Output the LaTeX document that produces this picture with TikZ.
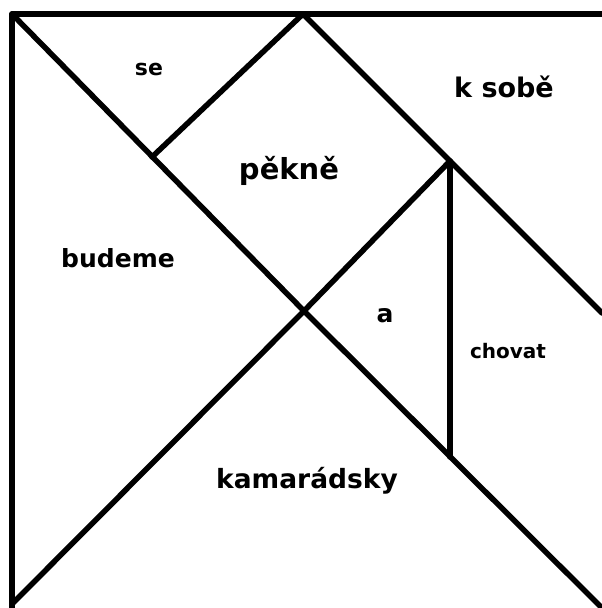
\documentclass[tikz,border=0pt]{standalone}
\usepackage{fontspec}
\setmainfont{DejaVu Sans}
\begin{document}
\begin{tikzpicture}[x=1pt,y=-1pt,
  edge/.style={line width=5.5pt,line cap=round,line join=round},
  lbl/.style={anchor=base,inner sep=0pt,font=\bfseries}]
\useasboundingbox (0,0) rectangle (602,608);
\coordinate (TL) at (12,14);
\coordinate (TR) at (602,14);
\coordinate (LB) at (12,608);
\coordinate (TM) at (303,14);
\coordinate (P) at (152,157);
\coordinate (C) at (304,311);
\coordinate (Q) at (450,161);
\coordinate (QB) at (450,457);
\coordinate (BR) at (600,606);
\coordinate (RM) at (602,313);
\coordinate (BL) at (12,604);
\draw[edge] (TR) -- (TL) -- (LB);
\draw[edge] (TL) -- (C) -- (BR);
\draw[edge] (TM) -- (P);
\draw[edge] (TM) -- (Q) -- (RM);
\draw[edge] (Q) -- (QB);
\draw[edge] (Q) -- (C) -- (BL);
\node[lbl,font=\bfseries\fontsize{22}{24}\selectfont] (se) at (149,75) {se};
\node[lbl,font=\bfseries\fontsize{27}{29}\selectfont] (ksobe) at (504,97) {k sobě};
\node[lbl,font=\bfseries\fontsize{29}{31}\selectfont] (pekne) at (289,179) {pěkně};
\node[lbl,font=\bfseries\fontsize{25}{27}\selectfont] (budeme) at (118,267) {budeme};
\node[lbl,font=\bfseries\fontsize{25}{27}\selectfont] (a) at (385,322) {a};
\node[lbl,font=\bfseries\fontsize{20}{22}\selectfont] (chovat) at (508,358) {chovat};
\node[lbl,font=\bfseries\fontsize{26.5}{28}\selectfont] (kamaradsky) at (307,488) {kamarádsky};
\end{tikzpicture}
\end{document}
